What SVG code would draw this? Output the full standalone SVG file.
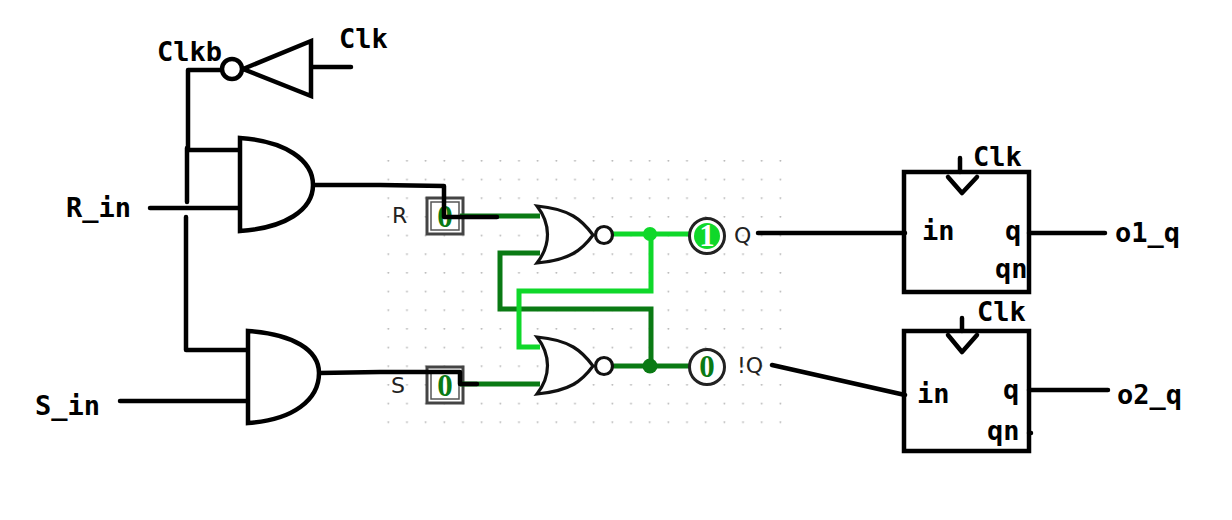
<svg xmlns="http://www.w3.org/2000/svg" width="1232" height="520" viewBox="0 0 1232 520">
<style>
.t{font-family:"DejaVu Sans Mono","Liberation Mono",monospace;font-weight:700;font-size:27px;fill:#000}
.s{font-family:"DejaVu Sans","Liberation Sans",sans-serif;font-size:22px;fill:#222}
.v{font-family:"Liberation Serif",serif;font-weight:700;font-size:31px;text-anchor:middle}
.b{fill:none;stroke:#000;stroke-width:4.5;stroke-linecap:round;stroke-linejoin:round}
.g{fill:#fff;stroke:#000;stroke-width:4.5;stroke-linejoin:miter}
.n{fill:#fff;stroke:#111;stroke-width:3.2;stroke-linejoin:miter}
.d{fill:none;stroke:#0a7a14;stroke-width:5}
.l{fill:none;stroke:#0fd82a;stroke-width:5}
.i{fill:#fff;stroke:#444;stroke-width:3}
</style>
<defs>
<pattern id="dots" x="379" y="160" width="18.67" height="18.67" patternUnits="userSpaceOnUse"><circle cx="9.3" cy="0.7" r="0.9" fill="#b5b5b5"/></pattern>
</defs>
<rect width="1232" height="520" fill="#fff"/>
<rect x="379" y="150" width="406" height="275" fill="url(#dots)"/>
<g id="inR">
<rect class="i" x="427" y="198" width="36" height="36"/>
<rect x="431" y="202" width="28" height="28" fill="none" stroke="#555" stroke-width="1.5"/>
<text class="v" x="445" y="227" fill="#0a7a14">0</text>
<text class="s" x="392" y="223">R</text>
</g>
<g id="inS">
<rect class="i" x="427" y="367" width="36" height="36"/>
<rect x="431" y="371" width="28" height="28" fill="none" stroke="#555" stroke-width="1.5"/>
<text class="v" x="445" y="396" fill="#0a7a14">0</text>
<text class="s" x="391" y="393">S</text>
</g>
<g id="connectors">
<path class="d" d="M460 216H540M540 253H500V309H651V366M612 366H690M460 384H540"/>
<path class="l" d="M612 234H690M651 234V291H519V347H540"/>
<circle cx="650" cy="234" r="7" fill="#0fd82a"/>
<circle cx="650" cy="366" r="7.5" fill="#0a7a14"/>
<path class="b" d="M222 70H188V150H238M311 67H351"/>
<path class="b" d="M187 148V202M186 217V350H246M150 208H240M120 401H248"/>
<path class="b" d="M313 185H380L444 186V217H497"/>
<path class="b" d="M319 373L380 372H460V384H477"/>
<path class="b" d="M758 233H905M772 365L905 395"/>
<path class="b" d="M960 158V172M962 318V331M1029 233H1105M1029 390H1108M1029 433H1031"/>
</g>
<g id="inverter">
<path class="g" d="M243 69L311 41V96Z"/>
<circle class="g" cx="232" cy="69" r="10"/>
</g>
<g id="and1"><path class="g" d="M240 138V231C285 228 313 210 313 185C313 160 285 141 240 138Z"/></g>
<g id="and2"><path class="g" d="M248 331V423C293 420 319 400 319 373C319 350 293 334 248 331Z"/></g>
<g id="nor1">
<path class="n" d="M537 206C570 209 582 220 593 235C582 250 570 260 537 263C551 245 551 224 537 206Z"/>
<circle class="n" cx="604" cy="235" r="8.5"/>
</g>
<g id="nor2">
<path class="n" d="M537 337C570 340 582 351 593 366C582 381 570 391 537 394C551 376 551 355 537 337Z"/>
<circle class="n" cx="604" cy="366" r="8.5"/>
</g>
<g id="outQ">
<circle cx="707" cy="236" r="17.5" fill="#fff" stroke="#222" stroke-width="3"/>
<circle cx="707" cy="236" r="13" fill="#0fd82a"/>
<text class="v" x="707" y="246" fill="#fff">1</text>
<text class="s" x="734" y="243">Q</text>
</g>
<g id="outNQ">
<circle cx="707" cy="367" r="17.5" fill="#fff" stroke="#222" stroke-width="3"/>
<text class="v" x="707" y="377" fill="#0a7a14">0</text>
<text class="s" x="737" y="373">!Q</text>
</g>
<g id="ff1">
<rect x="904" y="172" width="125" height="120" fill="none" stroke="#000" stroke-width="4.5"/>
<path class="b" d="M948 177L962 193L977 177"/>
<text class="t" x="973" y="166">Clk</text>
<text class="t" x="922" y="240">in</text>
<text class="t" x="1005" y="240">q</text>
<text class="t" x="995" y="278">qn</text>
</g>
<g id="ff2">
<rect x="904" y="331" width="125" height="120" fill="none" stroke="#000" stroke-width="4.5"/>
<path class="b" d="M948 335L962 352L977 335"/>
<text class="t" x="977" y="321">Clk</text>
<text class="t" x="917" y="403">in</text>
<text class="t" x="1003" y="399">q</text>
<text class="t" x="987" y="440">qn</text>
</g>
<g id="labels">
<text class="t" x="157" y="61">Clkb</text>
<text class="t" x="339" y="48">Clk</text>
<text class="t" x="66" y="217">R_in</text>
<text class="t" x="35" y="415">S_in</text>
<text class="t" x="1115" y="242">o1_q</text>
<text class="t" x="1117" y="404">o2_q</text>
</g>
</svg>
